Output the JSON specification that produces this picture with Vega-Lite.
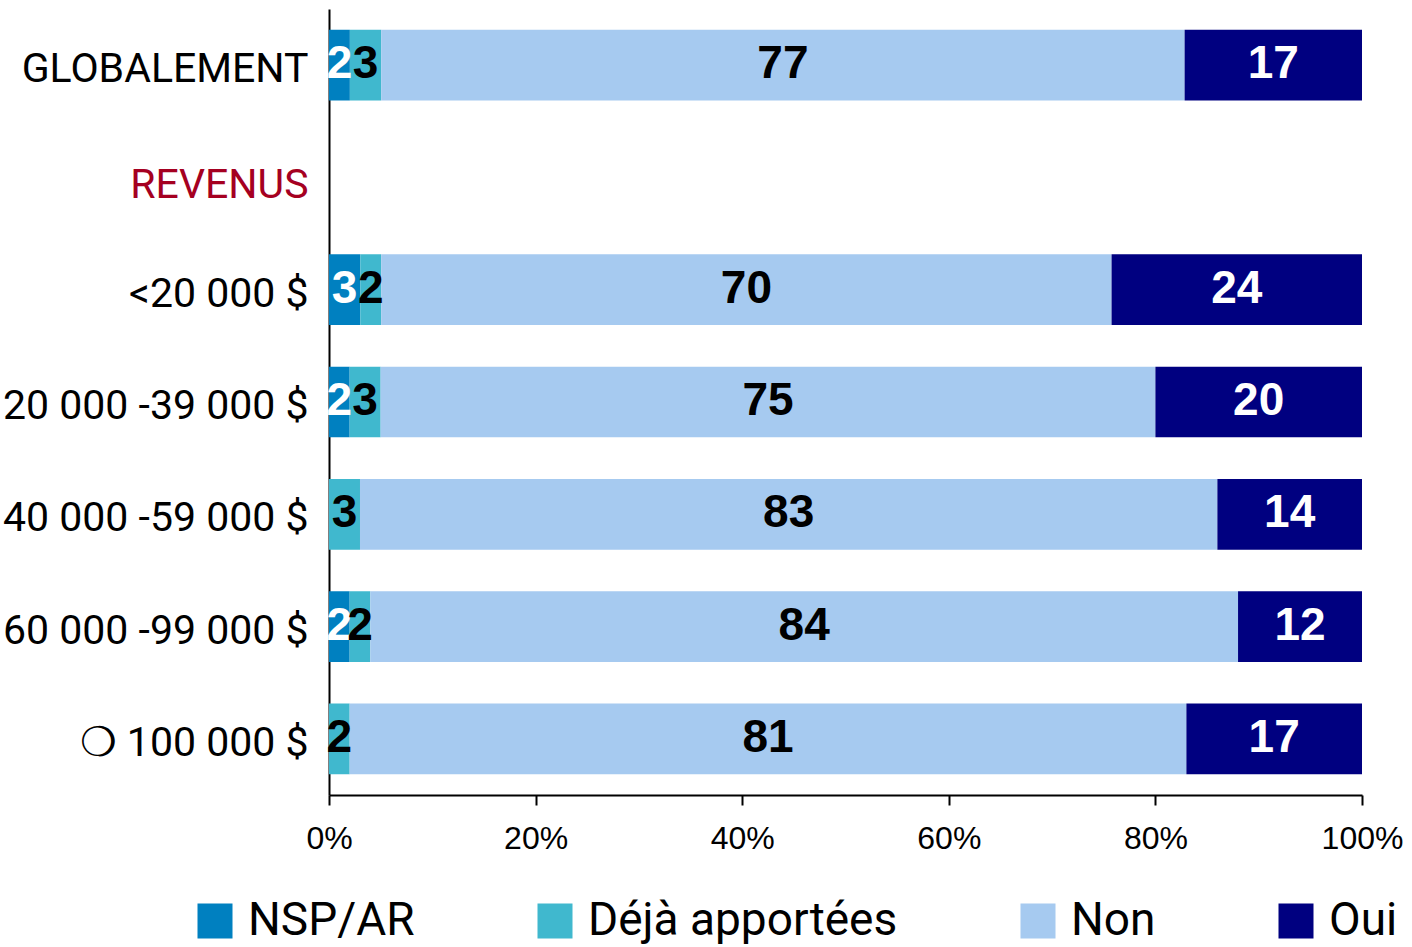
{
  "$schema": "https://vega.github.io/schema/vega-lite/v6.json",
  "width": 1033,
  "height": 786,
  "autosize": {"type": "none"},
  "padding": {"left": 329, "top": 9, "right": 50, "bottom": 152},
  "background": "white",
  "config": {"view": {"stroke": null}, "axis": {"grid": false}},
  "data": {
    "values": [
      {"cat": "GLOBALEMENT", "s": "NSP/AR", "k": 1, "v": 2},
      {"cat": "GLOBALEMENT", "s": "Déjà apportées", "k": 2, "v": 3},
      {"cat": "GLOBALEMENT", "s": "Non", "k": 3, "v": 77},
      {"cat": "GLOBALEMENT", "s": "Oui", "k": 4, "v": 17},
      {"cat": "<20 000 $", "s": "NSP/AR", "k": 1, "v": 3},
      {"cat": "<20 000 $", "s": "Déjà apportées", "k": 2, "v": 2},
      {"cat": "<20 000 $", "s": "Non", "k": 3, "v": 70},
      {"cat": "<20 000 $", "s": "Oui", "k": 4, "v": 24},
      {"cat": "20 000 -39 000 $", "s": "NSP/AR", "k": 1, "v": 2},
      {"cat": "20 000 -39 000 $", "s": "Déjà apportées", "k": 2, "v": 3},
      {"cat": "20 000 -39 000 $", "s": "Non", "k": 3, "v": 75},
      {"cat": "20 000 -39 000 $", "s": "Oui", "k": 4, "v": 20},
      {"cat": "40 000 -59 000 $", "s": "NSP/AR", "k": 1, "v": 0},
      {"cat": "40 000 -59 000 $", "s": "Déjà apportées", "k": 2, "v": 3},
      {"cat": "40 000 -59 000 $", "s": "Non", "k": 3, "v": 83},
      {"cat": "40 000 -59 000 $", "s": "Oui", "k": 4, "v": 14},
      {"cat": "60 000 -99 000 $", "s": "NSP/AR", "k": 1, "v": 2},
      {"cat": "60 000 -99 000 $", "s": "Déjà apportées", "k": 2, "v": 2},
      {"cat": "60 000 -99 000 $", "s": "Non", "k": 3, "v": 84},
      {"cat": "60 000 -99 000 $", "s": "Oui", "k": 4, "v": 12},
      {"cat": "❍ 100 000 $", "s": "NSP/AR", "k": 1, "v": 0},
      {"cat": "❍ 100 000 $", "s": "Déjà apportées", "k": 2, "v": 2},
      {"cat": "❍ 100 000 $", "s": "Non", "k": 3, "v": 81},
      {"cat": "❍ 100 000 $", "s": "Oui", "k": 4, "v": 17}
    ]
  },
  "encoding": {
    "y": {
      "field": "cat",
      "type": "nominal",
      "scale": {
        "domain": ["GLOBALEMENT", "REVENUS", "<20 000 $", "20 000 -39 000 $", "40 000 -59 000 $", "60 000 -99 000 $", "❍ 100 000 $"],
        "paddingInner": 0.37,
        "paddingOuter": 0.185
      },
      "axis": {
        "title": null,
        "ticks": false,
        "tickSize": 0,
        "labelPadding": 21,
        "labelFont": "Roboto, sans-serif",
        "labelFontSize": 41,
        "labelLimit": 0,
        "labelOffset": {"condition": {"test": "datum.value === 'REVENUS'", "value": 9}, "value": 5},
        "labelColor": {"condition": {"test": "datum.value === 'REVENUS'", "value": "#A50021"}, "value": "black"},
        "domainColor": "black",
        "domainWidth": 2
      }
    }
  },
  "layer": [
    {
      "mark": {"type": "bar"},
      "encoding": {
        "x": {
          "field": "v",
          "type": "quantitative",
          "stack": "normalize",
          "scale": {"domain": [0, 1], "nice": false},
          "axis": {
            "title": null,
            "format": "%",
            "values": [0, 0.2, 0.4, 0.6, 0.8, 1],
            "labelFont": "Liberation Sans, Arial, sans-serif",
            "labelFontSize": 32,
            "labelColor": "black",
            "labelPadding": 18,
            "labelFlush": false,
            "labelOverlap": false,
            "tickSize": 10,
            "tickColor": "black",
            "tickWidth": 2,
            "domainColor": "black",
            "domainWidth": 2
          }
        },
        "color": {
          "field": "s",
          "type": "nominal",
          "scale": {
            "domain": ["NSP/AR", "Déjà apportées", "Non", "Oui"],
            "range": ["#0080C0", "#40B8CE", "#A6CAF0", "#000080"]
          },
          "legend": {
            "title": null,
            "orient": "none",
            "legendX": -137,
            "legendY": 889,
            "direction": "horizontal",
            "symbolType": "square",
            "symbolSize": 1225,
            "symbolStrokeWidth": 0,
            "symbolOpacity": 1,
            "labelFont": "Roboto, sans-serif",
            "labelFontSize": 46,
            "labelColor": "black",
            "labelLimit": 0,
            "labelOffset": 10,
            "columnPadding": 117
          }
        },
        "order": {"field": "k", "type": "quantitative"}
      }
    },
    {
      "transform": [{"filter": "datum.v > 0"}],
      "mark": {"type": "text", "font": "Liberation Sans, Arial, sans-serif", "fontWeight": "bold", "fontSize": 46, "baseline": "middle", "align": "center", "dy": -1},
      "encoding": {
        "x": {"field": "v", "type": "quantitative", "stack": "normalize", "bandPosition": 0.5},
        "text": {"field": "v", "type": "quantitative"},
        "color": {"condition": {"test": "datum.s === 'NSP/AR' || datum.s === 'Oui'", "value": "white"}, "value": "black"},
        "order": {"field": "k", "type": "quantitative"}
      }
    }
  ]
}
